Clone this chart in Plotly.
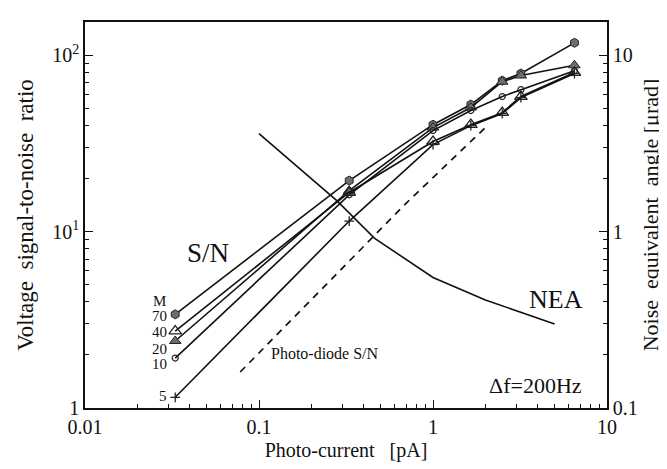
import plotly.graph_objects as go

# ---- data ----
current = [0.033, 0.33, 1.0, 1.65, 2.5, 3.2, 6.5]
sn_m70 = [3.4, 19.5, 40.5, 52.7, 72.0, 79.0, 118.0]
sn_m40 = [2.73, 16.7, 32.5, 40.5, 47.4, 58.5, 80.0]
sn_m20 = [2.4, 17.1, 39.0, 50.7, 71.0, 77.0, 88.0]
sn_m10 = [1.92, 16.2, 37.5, 48.7, 58.5, 64.0, 82.0]
sn_m5 = [1.15, 11.5, 31.2, 40.0, 46.8, 57.7, 79.0]

pd_current = [0.078, 0.7, 2.0]
pd_sn = [1.6, 14.5, 39.0]

nea_current = [0.1, 0.28, 0.46, 1.0, 2.0, 5.0]
nea_urad = [3.6, 1.5, 0.92, 0.55, 0.41, 0.30]

gain_labels = ["M", "70", "40", "20", "10", "5"]

FONT = "Liberation Serif"

fig = go.Figure()

series = [
    (sn_m70, "M=70", dict(symbol="hexagon", size=9, color="#6e6e6e", line=dict(color="#222", width=1))),
    (sn_m20, "M=20", dict(symbol="triangle-up", size=10, color="#6e6e6e", line=dict(color="#222", width=1))),
    (sn_m10, "M=10", dict(symbol="circle-open", size=6, color="#222", line=dict(width=1.2))),
    (sn_m40, "M=40", dict(symbol="triangle-up-open", size=11, color="#222", line=dict(width=1.3))),
    (sn_m5, "M=5", dict(symbol="cross-thin-open", size=7, color="#222", line=dict(width=1.3))),
]
for ys, name, mk in series:
    fig.add_trace(go.Scatter(x=current, y=ys, mode="lines+markers", name=name,
                             line=dict(color="#111", width=1.6), marker=mk))

fig.add_trace(go.Scatter(x=pd_current, y=pd_sn, mode="lines", name="Photo-diode S/N",
                         line=dict(color="#111", width=1.7, dash="7px,6px")))

fig.add_trace(go.Scatter(x=nea_current, y=nea_urad, mode="lines", name="NEA",
                         line=dict(color="#111", width=1.6), yaxis="y2"))

def minor_vals(lo, hi):
    v = []
    d = lo
    while d < hi:
        for k in range(2, 10):
            v.append(k * d)
        d *= 10
    return v

axis_common = dict(
    type="log", showline=True, linecolor="#111", linewidth=1.5,
    ticks="inside", ticklen=8, tickwidth=1.2, tickcolor="#111",
    showgrid=False, zeroline=False,
    tickfont=dict(family=FONT, size=20, color="#111"),
)

fig.update_layout(
    width=667, height=469,
    margin=dict(l=77, r=68, t=14, b=69),
    paper_bgcolor="white", plot_bgcolor="white",
    showlegend=False,
    font=dict(family=FONT, color="#111"),
    xaxis=dict(
        **axis_common, range=[-2, 1], mirror=True,
        tickvals=[0.01, 0.1, 1, 10], ticktext=["0.01", "0.1", "1", "10"],
        minor=dict(tickmode="array", tickvals=minor_vals(0.01, 10), ticks="inside", ticklen=4, tickcolor="#111"),
        title=dict(text="Photo-current   [pA]", font=dict(family=FONT, size=20), standoff=6),
    ),
    yaxis=dict(
        **axis_common, range=[0, 2.19],
        tickvals=[1, 10, 100], ticktext=["1", "10<sup>1</sup>", "10<sup>2</sup>"],
        minor=dict(tickmode="array", tickvals=minor_vals(1, 100), ticks="inside", ticklen=4, tickcolor="#111"),
        title=dict(text="Voltage  signal-to-noise  ratio", font=dict(family=FONT, size=23), standoff=12),
    ),
    yaxis2=dict(
        **axis_common, range=[-1, 1.19], overlaying="y", side="right",
        tickvals=[0.1, 1, 10], ticktext=["0.1", "1", "10"],
        minor=dict(tickmode="array", tickvals=minor_vals(0.1, 10), ticks="inside", ticklen=4, tickcolor="#111"),
        title=dict(text="Noise  equivalent  angle [μrad]", font=dict(family=FONT, size=22), standoff=6),
    ),
)

W, H = 522.0, 386.0
def px(x, y):
    return (x - 77) / W, (400 - y) / H

anns = []
def add(text, x, y, size, xanchor="center"):
    xp, yp = px(x, y)
    anns.append(dict(text=text, x=xp, y=yp, xref="paper", yref="paper", showarrow=False,
                     xanchor=xanchor, yanchor="middle", font=dict(family=FONT, size=size, color="#111")))

add(gain_labels[0], 151, 293, 15)
for lab, yy in zip(gain_labels[1:], [308, 324, 341, 356, 388]):
    add(lab, 161, yy, 15, xanchor="right")
add("S/N", 200, 245, 27)
add("NEA", 548, 291, 26)
add("Photo-diode S/N", 261, 345, 16, xanchor="left")
add("Δf=200Hz", 576, 377, 22, xanchor="right")
fig.update_layout(annotations=anns)

fig.write_html("out.html")
